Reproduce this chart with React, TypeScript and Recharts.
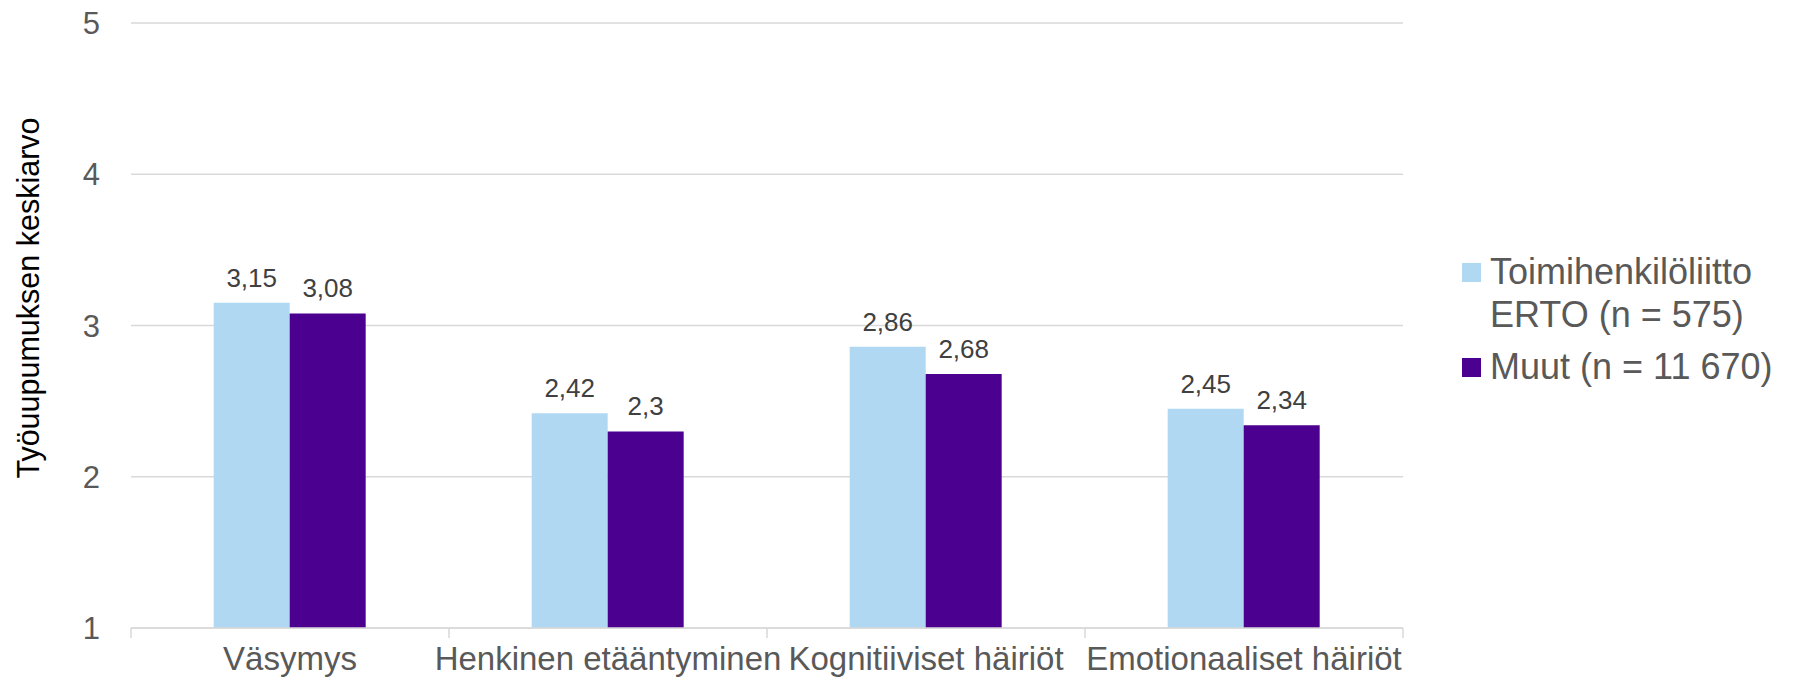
import { Bar, BarChart, CartesianGrid, Label, LabelList, Legend, XAxis, YAxis } from "recharts";

const categories = ["Väsymys", "Henkinen etääntyminen", "Kognitiiviset häiriöt", "Emotionaaliset häiriöt"];
const ertoValues = [3.15, 2.42, 2.86, 2.45];
const muutValues = [3.08, 2.3, 2.68, 2.34];
const yTicks = [1, 2, 3, 4, 5];
const seriesNames = ["Toimihenkilöliitto ERTO (n = 575)", "Muut (n = 11 670)"];

const FONT = '"Liberation Sans", Arial, sans-serif';
const W = 1795;
const H = 685;
const PLOT_LEFT = 131;
const PLOT_RIGHT = 1403;
const BAND = (PLOT_RIGHT - PLOT_LEFT) / categories.length;

const data = categories.map((name, i) => ({
  name,
  erto: ertoValues[i],
  muut: muutValues[i],
}));

const fmt = (v: number) => String(v).replace(".", ",");

function CategoryTick(props: any) {
  const { x, y, payload, index } = props;
  const last = index === categories.length - 1;
  return (
    <g>
      <line x1={x - BAND / 2} x2={x - BAND / 2} y1={y - 8} y2={y + 2} stroke="#d9d9d9" strokeWidth={1.5} />
      {last && (
        <line x1={x + BAND / 2} x2={x + BAND / 2} y1={y - 8} y2={y + 2} stroke="#d9d9d9" strokeWidth={1.5} />
      )}
      <text x={x} y={y + 34} textAnchor="middle" fill="#595959" fontSize={33} fontFamily={FONT}>
        {payload.value}
      </text>
    </g>
  );
}

function LegendContent(props: any) {
  const items = [...(props.payload || [])].sort(
    (a: any, b: any) => seriesNames.indexOf(a.value) - seriesNames.indexOf(b.value)
  );
  return (
    <div style={{ paddingLeft: 59, fontFamily: FONT }}>
      {items.map((entry: any, i: number) => (
        <div key={i} style={{ display: "flex", alignItems: "flex-start", marginBottom: 9 }}>
          <div style={{ width: 19, height: 19, background: entry.color, marginTop: 13, marginRight: 9, flexShrink: 0 }} />
          <div style={{ fontSize: 36, lineHeight: "43px", color: "#595959", width: 305, whiteSpace: "normal" }}>
            {entry.value}
          </div>
        </div>
      ))}
    </div>
  );
}

export default function App() {
  return (
    <div style={{ position: "absolute", left: 0, top: 0, background: "#fff" }}>
      <BarChart
        width={W}
        height={H}
        data={data}
        margin={{ top: 23, right: 0, bottom: 0, left: 0 }}
        barCategoryGap="26%"
        barGap={0}
      >
        <CartesianGrid vertical={false} stroke="#d9d9d9" strokeWidth={1.5} />
        <XAxis
          dataKey="name"
          height={57}
          axisLine={{ stroke: "#d9d9d9", strokeWidth: 1.5 }}
          tickLine={false}
          tick={<CategoryTick />}
          interval={0}
        />
        <YAxis
          width={PLOT_LEFT}
          domain={[1, 5]}
          ticks={yTicks}
          axisLine={false}
          tickLine={false}
          tickMargin={25}
          tick={{ fontSize: 31, fill: "#595959", fontFamily: FONT }}
        >
          <Label
            content={() => (
              <text
                x={39}
                y={298}
                transform="rotate(-90, 39, 298)"
                textAnchor="middle"
                fontSize={30.5}
                fill="#000"
                fontFamily={FONT}
              >
                Työuupumuksen keskiarvo
              </text>
            )}
          />
        </YAxis>
        <Legend
          layout="vertical"
          align="right"
          verticalAlign="middle"
          content={<LegendContent />}
          wrapperStyle={{ left: PLOT_RIGHT, top: 250, width: W - PLOT_RIGHT }}
        />
        <Bar dataKey="erto" name={seriesNames[0]} fill="#B0D8F2" isAnimationActive={false}>
          <LabelList dataKey="erto" position="top" offset={16} formatter={fmt} fill="#404040" fontSize={26} fontFamily={FONT} />
        </Bar>
        <Bar dataKey="muut" name={seriesNames[1]} fill="#4B008F" isAnimationActive={false}>
          <LabelList dataKey="muut" position="top" offset={16} formatter={fmt} fill="#404040" fontSize={26} fontFamily={FONT} />
        </Bar>
      </BarChart>
    </div>
  );
}
